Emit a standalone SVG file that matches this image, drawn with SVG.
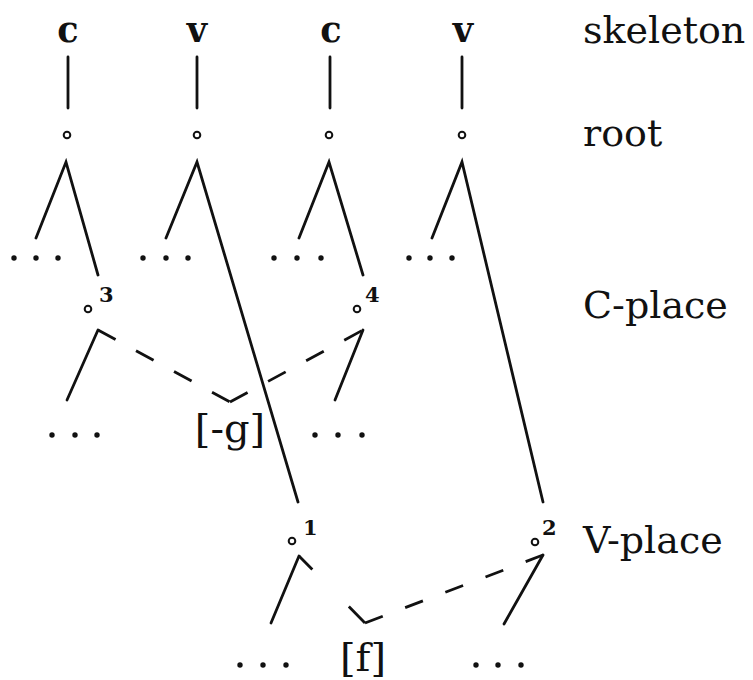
<svg xmlns="http://www.w3.org/2000/svg" width="753" height="680" viewBox="0 0 753 680">
<style>
.ln{stroke:#111;stroke-width:2.8;fill:none;stroke-linecap:round}
.ds{stroke:#111;stroke-width:2.8;fill:none;stroke-linecap:butt}
.nd{stroke:#111;stroke-width:2;fill:#fff}
.dt{fill:#111}
.lab{font-family:"DejaVu Serif","Liberation Serif",serif;font-size:38px;fill:#111}
.seg{font-family:"DejaVu Serif","Liberation Serif",serif;font-size:35px;font-weight:bold;fill:#111}
.sup{font-family:"DejaVu Serif","Liberation Serif",serif;font-size:21px;font-weight:bold;fill:#111}
.ft{font-family:"DejaVu Serif","Liberation Serif",serif;font-size:40px;fill:#111}
</style>
<rect width="753" height="680" fill="#fff"/>
<g id="labels">
<text class="lab" x="583" y="43">skeleton</text>
<text class="lab" x="583" y="146">root</text>
<text class="lab" x="583" y="318">C-place</text>
<text class="lab" x="583" y="553">V-place</text>
</g>
<g id="connectors">
<line class="ln" x1="68" y1="57" x2="68" y2="108"/>
<line class="ln" x1="197" y1="57" x2="197" y2="108"/>
<line class="ln" x1="330" y1="57" x2="330" y2="108"/>
<line class="ln" x1="462" y1="57" x2="462" y2="108"/>
<polyline class="ln" points="36,238 66,162 98,275"/>
<polyline class="ln" points="166,238 197,162 298,502"/>
<polyline class="ln" points="299,238 329,162 363,275"/>
<polyline class="ln" points="432,238 462,162 543,502"/>
<line class="ln" x1="98" y1="330" x2="67" y2="400"/>
<line class="ln" x1="363" y1="330" x2="335" y2="400"/>
<line class="ds" x1="98" y1="330" x2="230" y2="402" stroke-dasharray="20 23.3"/>
<line class="ds" x1="230" y1="402" x2="363" y2="330" stroke-dasharray="20 23.3"/>
<line class="ln" x1="299" y1="556" x2="271" y2="623"/>
<line class="ln" x1="543" y1="555" x2="504" y2="624"/>
<line class="ds" x1="299" y1="556" x2="365" y2="623" stroke-dasharray="19 52 23"/>
<line class="ds" x1="365" y1="623" x2="543" y2="555" stroke-dasharray="19 24"/>
</g>
<g id="seg-c1"><text class="seg" x="68" y="42" text-anchor="middle">c</text></g>
<g id="seg-v1"><text class="seg" x="197" y="42" text-anchor="middle">v</text></g>
<g id="seg-c2"><text class="seg" x="331" y="42" text-anchor="middle">c</text></g>
<g id="seg-v2"><text class="seg" x="463" y="42" text-anchor="middle">v</text></g>
<g id="root-1"><circle class="nd" cx="67" cy="135" r="3.3"/></g>
<g id="root-2"><circle class="nd" cx="197" cy="135" r="3.3"/></g>
<g id="root-3"><circle class="nd" cx="329" cy="135" r="3.3"/></g>
<g id="root-4"><circle class="nd" cx="462" cy="135" r="3.3"/></g>
<g id="dots-1"><circle class="dt" cx="14" cy="258" r="2.7"/><circle class="dt" cx="36" cy="258" r="2.7"/><circle class="dt" cx="58" cy="258" r="2.7"/></g>
<g id="dots-2"><circle class="dt" cx="143" cy="258" r="2.7"/><circle class="dt" cx="166" cy="258" r="2.7"/><circle class="dt" cx="188" cy="258" r="2.7"/></g>
<g id="dots-3"><circle class="dt" cx="274" cy="258" r="2.7"/><circle class="dt" cx="297" cy="258" r="2.7"/><circle class="dt" cx="321" cy="258" r="2.7"/></g>
<g id="dots-4"><circle class="dt" cx="409" cy="258" r="2.7"/><circle class="dt" cx="430" cy="258" r="2.7"/><circle class="dt" cx="452" cy="258" r="2.7"/></g>
<g id="cplace-3"><circle class="nd" cx="88" cy="309" r="3.3"/><text class="sup" x="99" y="302">3</text></g>
<g id="cplace-4"><circle class="nd" cx="357" cy="309" r="3.3"/><text class="sup" x="365" y="302">4</text></g>
<g id="dots-5"><circle class="dt" cx="52" cy="435" r="2.7"/><circle class="dt" cx="75" cy="435" r="2.7"/><circle class="dt" cx="97" cy="435" r="2.7"/></g>
<g id="dots-6"><circle class="dt" cx="315" cy="435" r="2.7"/><circle class="dt" cx="338" cy="435" r="2.7"/><circle class="dt" cx="362" cy="435" r="2.7"/></g>
<g id="feat-g"><text class="ft" x="230" y="442" text-anchor="middle">[-g]</text></g>
<g id="vplace-1"><circle class="nd" cx="292" cy="541" r="3.3"/><text class="sup" x="303" y="535">1</text></g>
<g id="vplace-2"><circle class="nd" cx="535" cy="542" r="3.3"/><text class="sup" x="542" y="535">2</text></g>
<g id="dots-7"><circle class="dt" cx="240" cy="665" r="2.7"/><circle class="dt" cx="263" cy="665" r="2.7"/><circle class="dt" cx="286" cy="665" r="2.7"/></g>
<g id="dots-8"><circle class="dt" cx="476" cy="665" r="2.7"/><circle class="dt" cx="498" cy="665" r="2.7"/><circle class="dt" cx="521" cy="665" r="2.7"/></g>
<g id="feat-f"><text class="ft" x="363" y="671" text-anchor="middle">[f]</text></g>
</svg>
